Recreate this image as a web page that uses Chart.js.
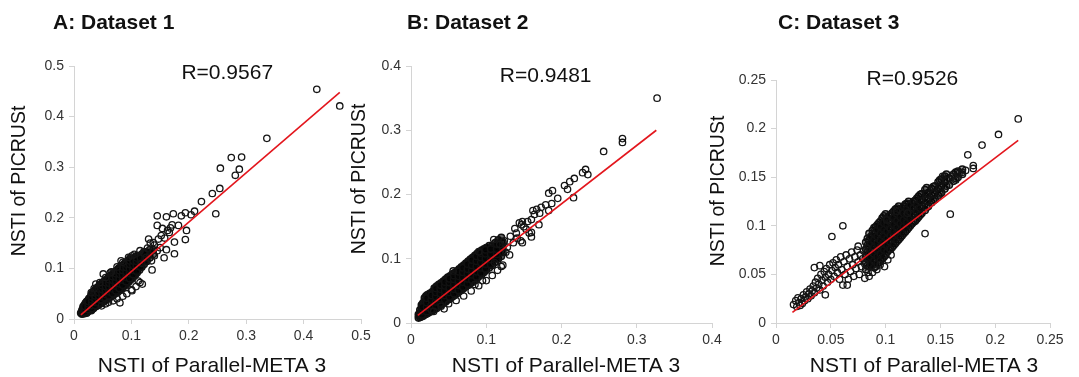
<!DOCTYPE html>
<html>
<head>
<meta charset="utf-8">
<script src="https://cdn.jsdelivr.net/npm/chart.js@4.4.1/dist/chart.umd.min.js"></script>
<style>
  html, body { margin: 0; padding: 0; background: #fff; }
  #wrap { position: relative; width: 1079px; height: 377px; overflow: hidden; }
  #wrap canvas { position: absolute; left: 0; top: 0; }
</style>
</head>
<body>
<div id="wrap">
  <canvas id="cA" width="1079" height="377"></canvas>
  <canvas id="cB" width="1079" height="377"></canvas>
  <canvas id="cC" width="1079" height="377"></canvas>
</div>
<script>
// ---- data ----
// dense clouds: each row is [x, y1, y2, ...]
const coreA = [
  [0.012, 0.012],
  [0.014, 0.010, 0.017],
  [0.016, 0.013, 0.020, 0.024],
  [0.018, 0.011, 0.016, 0.023, 0.027],
  [0.020, 0.014, 0.019, 0.025, 0.031],
  [0.022, 0.012, 0.018, 0.022, 0.028, 0.034],
  [0.024, 0.015, 0.021, 0.026, 0.032, 0.036],
  [0.026, 0.017, 0.022, 0.029, 0.034, 0.040],
  [0.028, 0.018, 0.025, 0.030, 0.037, 0.042],
  [0.030, 0.017, 0.023, 0.030, 0.035, 0.041, 0.047],
  [0.032, 0.020, 0.027, 0.032, 0.039, 0.044, 0.050],
  [0.034, 0.021, 0.028, 0.034, 0.041, 0.047, 0.053],
  [0.036, 0.024, 0.029, 0.036, 0.043, 0.049, 0.056],
  [0.038, 0.025, 0.031, 0.039, 0.045, 0.051, 0.058],
  [0.040, 0.026, 0.034, 0.040, 0.047, 0.055, 0.061],
  [0.042, 0.028, 0.035, 0.042, 0.049, 0.056, 0.063],
  [0.044, 0.029, 0.037, 0.044, 0.051, 0.059, 0.065],
  [0.046, 0.031, 0.038, 0.046, 0.053, 0.060, 0.068],
  [0.048, 0.032, 0.041, 0.047, 0.055, 0.063, 0.069],
  [0.050, 0.034, 0.041, 0.050, 0.057, 0.064, 0.072],
  [0.052, 0.035, 0.044, 0.051, 0.060, 0.066, 0.073],
  [0.054, 0.037, 0.045, 0.053, 0.060, 0.068, 0.076],
  [0.056, 0.038, 0.047, 0.054, 0.063, 0.070, 0.077],
  [0.058, 0.040, 0.048, 0.056, 0.064, 0.073, 0.079],
  [0.060, 0.041, 0.050, 0.058, 0.067, 0.074, 0.082],
  [0.062, 0.043, 0.051, 0.060, 0.068, 0.077, 0.083],
  [0.064, 0.044, 0.053, 0.062, 0.070, 0.078, 0.086],
  [0.066, 0.046, 0.055, 0.063, 0.072, 0.081, 0.087],
  [0.068, 0.048, 0.056, 0.066, 0.074, 0.082, 0.090],
  [0.070, 0.049, 0.059, 0.067, 0.076, 0.085, 0.091],
  [0.072, 0.051, 0.060, 0.070, 0.078, 0.086, 0.094],
  [0.074, 0.053, 0.062, 0.071, 0.081, 0.088, 0.095],
  [0.076, 0.054, 0.064, 0.073, 0.082, 0.091, 0.097],
  [0.078, 0.056, 0.065, 0.075, 0.085, 0.092, 0.100],
  [0.080, 0.058, 0.068, 0.077, 0.086, 0.095, 0.101],
  [0.083, 0.060, 0.070, 0.080, 0.090, 0.097, 0.105],
  [0.086, 0.064, 0.073, 0.083, 0.092, 0.101, 0.107],
  [0.089, 0.066, 0.077, 0.086, 0.095, 0.103, 0.111],
  [0.092, 0.070, 0.079, 0.089, 0.099, 0.106, 0.113],
  [0.095, 0.073, 0.083, 0.093, 0.101, 0.110, 0.116],
  [0.098, 0.077, 0.086, 0.095, 0.105, 0.112, 0.120],
  [0.101, 0.080, 0.090, 0.099, 0.108, 0.117],
  [0.104, 0.084, 0.094, 0.102, 0.112, 0.119],
  [0.107, 0.088, 0.097, 0.107, 0.115, 0.123],
  [0.110, 0.092, 0.102, 0.110, 0.119, 0.125],
  [0.114, 0.097, 0.106, 0.115, 0.122],
  [0.118, 0.103, 0.111, 0.120, 0.128],
  [0.122, 0.108, 0.118, 0.125, 0.133],
  [0.127, 0.114, 0.123, 0.132],
  [0.132, 0.121, 0.130, 0.137],
  [0.138, 0.128, 0.137]
];
// in-between points of the same cloud
const fillA = [
  [0.019, 0.014, 0.020, 0.025],
  [0.025, 0.019, 0.024, 0.030, 0.035],
  [0.031, 0.021, 0.027, 0.033, 0.038, 0.044],
  [0.037, 0.027, 0.033, 0.040, 0.046, 0.052],
  [0.043, 0.032, 0.039, 0.046, 0.053, 0.060],
  [0.049, 0.037, 0.044, 0.051, 0.059, 0.066],
  [0.055, 0.041, 0.049, 0.057, 0.064, 0.072],
  [0.061, 0.046, 0.054, 0.063, 0.071, 0.078],
  [0.067, 0.051, 0.060, 0.068, 0.077, 0.084],
  [0.073, 0.056, 0.065, 0.074, 0.083, 0.090],
  [0.079, 0.061, 0.070, 0.080, 0.089, 0.096],
  [0.085, 0.067, 0.077, 0.087, 0.096, 0.103],
  [0.091, 0.074, 0.083, 0.093, 0.102, 0.109],
  [0.097, 0.080, 0.090, 0.099, 0.108, 0.115],
  [0.103, 0.088, 0.097, 0.106, 0.115],
  [0.109, 0.095, 0.105, 0.114, 0.121],
  [0.116, 0.103, 0.112, 0.120],
  [0.124, 0.114, 0.121, 0.129]
];
const looseA = [
  [0.423, 0.454], [0.463, 0.421], [0.336, 0.357], [0.274, 0.319], [0.292, 0.320],
  [0.255, 0.298], [0.288, 0.296], [0.281, 0.284], [0.254, 0.258], [0.241, 0.248],
  [0.222, 0.232], [0.247, 0.208], [0.210, 0.213], [0.194, 0.210], [0.187, 0.204],
  [0.173, 0.208], [0.161, 0.202], [0.204, 0.206], [0.145, 0.185], [0.154, 0.179],
  [0.171, 0.186], [0.182, 0.185], [0.166, 0.171], [0.175, 0.152], [0.194, 0.157],
  [0.175, 0.129], [0.157, 0.121], [0.138, 0.151], [0.150, 0.141], [0.161, 0.137],
  [0.101, 0.125], [0.082, 0.115], [0.136, 0.097], [0.101, 0.056], [0.080, 0.032],
  [0.051, 0.089], [0.038, 0.069], [0.063, 0.091], [0.119, 0.069], [0.112, 0.075],
  [0.196, 0.175], [0.145, 0.204], [0.128, 0.140], [0.133, 0.150], [0.140, 0.146],
  [0.147, 0.158], [0.152, 0.165], [0.158, 0.160], [0.163, 0.175], [0.168, 0.180],
  [0.130, 0.158], [0.122, 0.130], [0.126, 0.122], [0.140, 0.125], [0.135, 0.115],
  [0.118, 0.110], [0.145, 0.135], [0.060, 0.033], [0.068, 0.036], [0.075, 0.040],
  [0.085, 0.045], [0.092, 0.050], [0.100, 0.058], [0.108, 0.064], [0.115, 0.072],
  [0.055, 0.030], [0.048, 0.026], [0.030, 0.052], [0.035, 0.060], [0.045, 0.072],
  [0.055, 0.082], [0.065, 0.093], [0.075, 0.103], [0.085, 0.112], [0.095, 0.122],
  [0.105, 0.128], [0.115, 0.135]
];
const fitA = [[0.012, 0.008], [0.463, 0.448]];

const coreB = [
  [0.010, 0.008, 0.013],
  [0.012, 0.009, 0.015, 0.020],
  [0.014, 0.010, 0.017, 0.022, 0.028],
  [0.016, 0.011, 0.018, 0.025, 0.031],
  [0.018, 0.013, 0.019, 0.026, 0.033, 0.039],
  [0.020, 0.014, 0.021, 0.028, 0.035, 0.042],
  [0.022, 0.015, 0.023, 0.029, 0.037, 0.044],
  [0.025, 0.017, 0.024, 0.032, 0.038, 0.046],
  [0.028, 0.019, 0.026, 0.033, 0.041, 0.048],
  [0.031, 0.021, 0.028, 0.036, 0.042, 0.050, 0.054],
  [0.034, 0.023, 0.031, 0.037, 0.045, 0.051, 0.057],
  [0.037, 0.026, 0.032, 0.040, 0.047, 0.054, 0.060],
  [0.040, 0.028, 0.035, 0.043, 0.049, 0.056, 0.062],
  [0.043, 0.031, 0.037, 0.045, 0.052, 0.059, 0.065],
  [0.046, 0.033, 0.040, 0.047, 0.055, 0.061, 0.068],
  [0.049, 0.036, 0.043, 0.050, 0.057, 0.064, 0.071],
  [0.052, 0.038, 0.045, 0.053, 0.059, 0.066, 0.073],
  [0.055, 0.041, 0.048, 0.055, 0.062, 0.069, 0.076],
  [0.058, 0.043, 0.050, 0.058, 0.064, 0.071, 0.078],
  [0.061, 0.046, 0.053, 0.060, 0.067, 0.074, 0.081],
  [0.064, 0.049, 0.056, 0.063, 0.070, 0.077, 0.084],
  [0.067, 0.051, 0.058, 0.066, 0.072, 0.080, 0.087],
  [0.070, 0.054, 0.061, 0.068, 0.075, 0.083, 0.090],
  [0.073, 0.057, 0.064, 0.071, 0.079, 0.086, 0.093],
  [0.076, 0.059, 0.066, 0.074, 0.081, 0.089, 0.096],
  [0.079, 0.062, 0.069, 0.077, 0.084, 0.092, 0.099],
  [0.082, 0.064, 0.072, 0.080, 0.087, 0.095, 0.102],
  [0.085, 0.067, 0.075, 0.083, 0.090, 0.098, 0.105],
  [0.088, 0.070, 0.078, 0.086, 0.093, 0.101, 0.108],
  [0.091, 0.073, 0.081, 0.089, 0.096, 0.104, 0.110],
  [0.094, 0.076, 0.084, 0.092, 0.099, 0.107, 0.113],
  [0.097, 0.079, 0.087, 0.095, 0.102, 0.110, 0.115],
  [0.100, 0.082, 0.090, 0.098, 0.105, 0.112, 0.117],
  [0.104, 0.086, 0.094, 0.102, 0.109, 0.116, 0.120],
  [0.108, 0.090, 0.098, 0.106, 0.113, 0.120],
  [0.112, 0.095, 0.103, 0.110, 0.117, 0.125],
  [0.116, 0.100, 0.108, 0.115, 0.122, 0.129],
  [0.120, 0.104, 0.112, 0.119, 0.126, 0.133]
];
const fillB = [
  [0.015, 0.013, 0.019, 0.025],
  [0.021, 0.018, 0.025, 0.032, 0.039],
  [0.027, 0.021, 0.028, 0.036, 0.043],
  [0.033, 0.026, 0.033, 0.041, 0.048, 0.054],
  [0.039, 0.031, 0.038, 0.046, 0.053, 0.059],
  [0.045, 0.036, 0.043, 0.050, 0.058, 0.064],
  [0.051, 0.041, 0.048, 0.055, 0.063, 0.069],
  [0.057, 0.046, 0.053, 0.060, 0.068, 0.074],
  [0.063, 0.051, 0.059, 0.066, 0.073, 0.080],
  [0.069, 0.056, 0.064, 0.071, 0.079, 0.086],
  [0.075, 0.061, 0.069, 0.077, 0.084, 0.092],
  [0.081, 0.067, 0.075, 0.082, 0.090, 0.098],
  [0.087, 0.072, 0.080, 0.088, 0.096, 0.104],
  [0.093, 0.078, 0.086, 0.094, 0.102, 0.109],
  [0.099, 0.084, 0.092, 0.100, 0.108, 0.114],
  [0.106, 0.091, 0.099, 0.107, 0.115],
  [0.114, 0.100, 0.107, 0.115, 0.123],
  [0.122, 0.110, 0.118, 0.126]
];
const looseB = [
  [0.327, 0.350], [0.281, 0.287], [0.281, 0.281], [0.256, 0.267], [0.228, 0.234],
  [0.232, 0.239], [0.235, 0.231], [0.217, 0.225], [0.211, 0.220], [0.204, 0.214],
  [0.208, 0.208], [0.216, 0.195], [0.195, 0.194], [0.188, 0.206], [0.183, 0.202],
  [0.187, 0.186], [0.179, 0.184], [0.173, 0.180], [0.167, 0.177], [0.162, 0.175],
  [0.183, 0.175], [0.171, 0.171], [0.164, 0.169], [0.160, 0.161], [0.170, 0.153],
  [0.155, 0.158], [0.148, 0.158], [0.147, 0.153], [0.160, 0.141], [0.148, 0.125],
  [0.138, 0.147], [0.144, 0.156], [0.160, 0.134], [0.131, 0.106], [0.110, 0.130],
  [0.090, 0.111], [0.056, 0.081], [0.044, 0.022], [0.095, 0.066], [0.111, 0.094],
  [0.120, 0.088], [0.118, 0.122], [0.124, 0.128], [0.128, 0.118], [0.132, 0.135],
  [0.136, 0.125], [0.140, 0.140], [0.126, 0.110], [0.150, 0.150], [0.141, 0.132],
  [0.153, 0.146], [0.146, 0.128], [0.157, 0.140], [0.060, 0.035], [0.070, 0.042],
  [0.080, 0.050], [0.090, 0.058], [0.100, 0.066], [0.108, 0.074], [0.050, 0.030],
  [0.040, 0.026], [0.030, 0.018], [0.115, 0.082], [0.122, 0.090], [0.085, 0.060]
];
const fitB = [[0.009, 0.012], [0.326, 0.300]];

const coreC = [
  [0.082, 0.055, 0.062, 0.069, 0.076, 0.083],
  [0.085, 0.058, 0.065, 0.071, 0.079, 0.085, 0.092],
  [0.088, 0.060, 0.068, 0.074, 0.081, 0.089, 0.095],
  [0.091, 0.058, 0.065, 0.072, 0.079, 0.086, 0.093, 0.099],
  [0.094, 0.062, 0.069, 0.076, 0.083, 0.090, 0.097, 0.103],
  [0.097, 0.066, 0.073, 0.080, 0.087, 0.094, 0.101, 0.108],
  [0.100, 0.070, 0.077, 0.084, 0.091, 0.098, 0.105, 0.112],
  [0.103, 0.075, 0.082, 0.089, 0.096, 0.103, 0.110],
  [0.106, 0.078, 0.085, 0.092, 0.099, 0.106, 0.113],
  [0.109, 0.082, 0.089, 0.096, 0.103, 0.110, 0.117],
  [0.112, 0.086, 0.093, 0.100, 0.107, 0.114, 0.120],
  [0.115, 0.090, 0.097, 0.104, 0.111, 0.118],
  [0.118, 0.094, 0.101, 0.108, 0.115, 0.122],
  [0.121, 0.098, 0.105, 0.112, 0.119, 0.125],
  [0.124, 0.102, 0.109, 0.116, 0.123],
  [0.127, 0.105, 0.112, 0.119, 0.126],
  [0.130, 0.109, 0.116, 0.123, 0.130],
  [0.133, 0.113, 0.120, 0.127, 0.133],
  [0.136, 0.116, 0.123, 0.130, 0.137],
  [0.139, 0.120, 0.127, 0.134],
  [0.142, 0.124, 0.131, 0.138],
  [0.145, 0.127, 0.134, 0.141],
  [0.148, 0.131, 0.138, 0.145],
  [0.151, 0.134, 0.141, 0.148],
  [0.154, 0.138, 0.145, 0.151],
  [0.158, 0.142, 0.149],
  [0.162, 0.146, 0.153],
  [0.166, 0.150, 0.156],
  [0.170, 0.153, 0.158]
];
const fillC = [
  [0.0835, 0.059, 0.066, 0.073, 0.080, 0.087],
  [0.0865, 0.061, 0.068, 0.075, 0.082, 0.089],
  [0.0895, 0.057, 0.064, 0.071, 0.078, 0.085, 0.092, 0.098],
  [0.0925, 0.061, 0.068, 0.075, 0.082, 0.089, 0.096, 0.101],
  [0.0955, 0.064, 0.071, 0.078, 0.085, 0.092, 0.099, 0.105],
  [0.0985, 0.068, 0.075, 0.082, 0.089, 0.096, 0.103, 0.110],
  [0.1015, 0.073, 0.080, 0.087, 0.094, 0.101, 0.108],
  [0.1045, 0.076, 0.083, 0.090, 0.097, 0.104, 0.111],
  [0.1075, 0.080, 0.087, 0.094, 0.101, 0.108, 0.115],
  [0.1105, 0.084, 0.091, 0.098, 0.105, 0.112, 0.118],
  [0.1135, 0.088, 0.095, 0.102, 0.109, 0.116],
  [0.1165, 0.092, 0.099, 0.106, 0.113, 0.120],
  [0.1195, 0.096, 0.103, 0.110, 0.117, 0.123],
  [0.1225, 0.100, 0.107, 0.114, 0.121],
  [0.1255, 0.104, 0.111, 0.118, 0.125],
  [0.1285, 0.107, 0.114, 0.121, 0.128],
  [0.1315, 0.111, 0.118, 0.125, 0.132],
  [0.1375, 0.119, 0.126, 0.133, 0.139],
  [0.1435, 0.126, 0.133, 0.140],
  [0.1495, 0.133, 0.140, 0.147],
  [0.1555, 0.141, 0.148, 0.153],
  [0.1640, 0.149, 0.155]
];
const looseC = [
  [0.016, 0.019], [0.018, 0.023], [0.019, 0.017], [0.020, 0.026], [0.021, 0.021],
  [0.022, 0.018], [0.023, 0.025], [0.024, 0.020], [0.025, 0.029], [0.026, 0.023],
  [0.027, 0.027], [0.028, 0.032], [0.029, 0.025], [0.030, 0.030], [0.031, 0.035],
  [0.032, 0.028], [0.033, 0.033], [0.034, 0.038], [0.035, 0.031], [0.035, 0.057],
  [0.036, 0.042], [0.037, 0.036], [0.038, 0.046], [0.039, 0.040], [0.040, 0.059],
  [0.040, 0.034], [0.041, 0.050], [0.042, 0.044], [0.043, 0.038], [0.044, 0.053],
  [0.045, 0.029], [0.045, 0.047], [0.046, 0.056], [0.047, 0.042], [0.048, 0.050],
  [0.049, 0.060], [0.050, 0.045], [0.051, 0.054], [0.051, 0.089], [0.052, 0.062],
  [0.053, 0.048], [0.054, 0.057], [0.055, 0.065], [0.056, 0.052], [0.057, 0.060],
  [0.058, 0.045], [0.059, 0.068], [0.060, 0.055], [0.061, 0.100], [0.061, 0.039],
  [0.062, 0.063], [0.063, 0.050], [0.064, 0.070], [0.065, 0.058], [0.065, 0.039],
  [0.066, 0.045], [0.067, 0.066], [0.068, 0.053], [0.069, 0.073], [0.070, 0.060],
  [0.071, 0.048], [0.072, 0.068], [0.073, 0.056], [0.074, 0.075], [0.075, 0.079],
  [0.075, 0.063], [0.076, 0.050], [0.077, 0.070], [0.078, 0.058], [0.079, 0.066],
  [0.080, 0.074], [0.081, 0.046], [0.081, 0.061], [0.083, 0.077], [0.084, 0.052],
  [0.092, 0.055], [0.095, 0.060], [0.099, 0.058], [0.102, 0.065], [0.088, 0.052],
  [0.085, 0.048], [0.105, 0.070], [0.221, 0.210], [0.203, 0.194], [0.188, 0.183],
  [0.175, 0.173], [0.180, 0.162], [0.180, 0.159], [0.170, 0.155], [0.159, 0.112],
  [0.136, 0.092], [0.152, 0.151], [0.161, 0.151], [0.164, 0.147], [0.167, 0.154],
  [0.173, 0.157], [0.110, 0.115], [0.101, 0.106], [0.120, 0.113]
];
const fitC = [[0.015, 0.011], [0.221, 0.188]];

const ticksA = [0, 0.1, 0.2, 0.3, 0.4, 0.5];
const ticksB = [0, 0.1, 0.2, 0.3, 0.4];
const ticksC = [0, 0.05, 0.1, 0.15, 0.2, 0.25];

const titles = ['A: Dataset 1', 'B: Dataset 2', 'C: Dataset 3'];
const rLabels = ['R=0.9567', 'R=0.9481', 'R=0.9526'];
const xTitle = 'NSTI of Parallel-META 3';
const yTitle = 'NSTI of PICRUSt';

// ---- helpers ----
function rowsToPoints(rowSets) {
  const pts = [];
  rowSets.forEach(rows => rows.forEach(row => {
    for (let i = 1; i < row.length; i++) pts.push({ x: row[0], y: row[i] });
  }));
  return pts;
}
const pairs = list => list.map(p => ({ x: p[0], y: p[1] }));

const FONT = '"Liberation Sans", Arial, sans-serif';

// draws panel title, R value and axis titles
const panelText = {
  id: 'panelText',
  afterDraw(chart, args, o) {
    const { ctx } = chart;
    const x = chart.scales.x, y = chart.scales.y;
    ctx.save();
    ctx.fillStyle = '#111';
    ctx.textBaseline = 'middle';
    ctx.font = 'bold 21px ' + FONT;
    ctx.textAlign = 'left';
    ctx.fillText(o.title, o.titleX, 23);
    ctx.font = '21px ' + FONT;
    ctx.textAlign = 'center';
    ctx.fillText(o.r, x.getPixelForValue(o.rAt[0]), y.getPixelForValue(o.rAt[1]));
    ctx.fillText(xTitle, o.xTitleX, 366);
    ctx.translate(o.yTitleX, o.yTitleY);
    ctx.rotate(-Math.PI / 2);
    ctx.font = '19.5px ' + FONT;
    ctx.fillText(yTitle, 0, 0);
    ctx.restore();
  }
};

function makePanel(id, cloud, loose, fit, ticks, p) {
  const axisGray = '#d4d4d4';
  const tickFont = { family: FONT, size: 14 };
  new Chart(document.getElementById(id), {
    type: 'scatter',
    data: {
      datasets: [
        {
          type: 'line',
          data: pairs(fit),
          borderColor: '#e3161d',
          borderWidth: 1.6,
          pointRadius: 0,
          fill: false
        },
        {
          data: pairs(loose),
          pointRadius: 3.2,
          pointBorderWidth: 1.3,
          pointBorderColor: '#151515',
          pointBackgroundColor: 'rgba(0,0,0,0)'
        },
        {
          // overlapping circles of the dense cloud
          data: rowsToPoints(cloud),
          pointRadius: 3.3,
          pointBorderWidth: 1.5,
          pointBorderColor: '#111',
          pointBackgroundColor: p.cloudFill
        }
      ]
    },
    options: {
      responsive: false,
      animation: false,
      devicePixelRatio: 1,
      layout: { padding: p.pad },
      plugins: {
        legend: { display: false },
        tooltip: { enabled: false },
        panelText: p.text
      },
      scales: {
        x: {
          type: 'linear',
          min: 0,
          max: ticks[ticks.length - 1],
          afterBuildTicks: s => { s.ticks = ticks.map(v => ({ value: v })); },
          afterFit: s => { s.height = p.xH; },
          ticks: { color: '#333', font: tickFont, padding: 4, maxRotation: 0, callback: v => String(v) },
          grid: { drawOnChartArea: false, color: axisGray, tickLength: 5 },
          border: { color: axisGray }
        },
        y: {
          type: 'linear',
          min: 0,
          max: p.yMax,
          afterBuildTicks: s => { s.ticks = p.yTicks.map(v => ({ value: v })); },
          afterFit: s => { s.width = p.yW; },
          ticks: { color: '#333', font: tickFont, padding: 5, callback: v => String(v) },
          grid: { drawOnChartArea: false, color: axisGray, tickLength: 5 },
          border: { color: axisGray }
        }
      }
    },
    plugins: [panelText]
  });
}

makePanel('cA', [coreA, fillA], looseA, fitA, ticksA, {
  pad: { left: 0, top: 66, right: 718, bottom: 0 }, yW: 74, xH: 58,
  yMax: 0.5, yTicks: ticksA, cloudFill: 'rgba(0,0,0,0.6)',
  text: { title: titles[0], titleX: 53, r: rLabels[0], rAt: [0.267, 0.485],
          xTitleX: 212, yTitleX: 20, yTitleY: 181 }
});
makePanel('cB', [coreB, fillB], looseB, fitB, ticksB, {
  pad: { left: 340, top: 66, right: 367, bottom: 0 }, yW: 71, xH: 54,
  yMax: 0.4, yTicks: ticksB, cloudFill: 'rgba(0,0,0,0.6)',
  text: { title: titles[1], titleX: 407, r: rLabels[1], rAt: [0.179, 0.384],
          xTitleX: 566, yTitleX: 360, yTitleY: 179 }
});
makePanel('cC', [coreC, fillC], looseC, fitC, ticksC, {
  pad: { left: 699, top: 80, right: 29, bottom: 0 }, yW: 77, xH: 54,
  yMax: 0.25, yTicks: ticksC, cloudFill: 'rgba(0,0,0,0.35)',
  text: { title: titles[2], titleX: 778, r: rLabels[2], rAt: [0.1245, 0.2505],
          xTitleX: 924, yTitleX: 719, yTitleY: 191 }
});
</script>
</body>
</html>
